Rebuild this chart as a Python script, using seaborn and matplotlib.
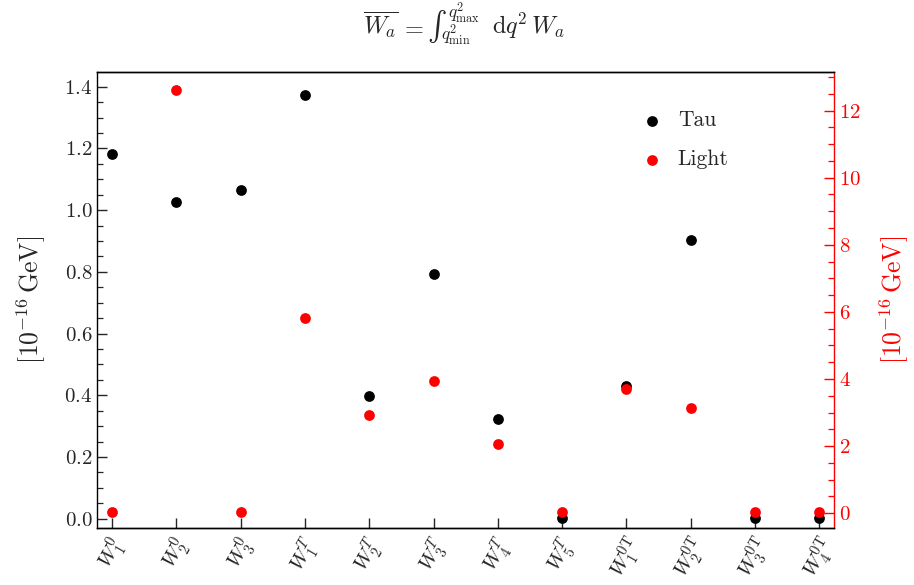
import matplotlib
matplotlib.use("Agg")
import matplotlib.pyplot as plt
import seaborn as sns
import pandas as pd
from matplotlib.ticker import MultipleLocator
from matplotlib.textpath import TextPath
from matplotlib.font_manager import FontProperties

categories = [r"$W_1^0$", r"$W_2^0$", r"$W_3^0$", r"$W_1^T$", r"$W_2^T$", r"$W_3^T$",
              r"$W_4^T$", r"$W_5^T$", r"$W_1^{\mathrm{0T}}$", r"$W_2^{\mathrm{0T}}$",
              r"$W_3^{\mathrm{0T}}$", r"$W_4^{\mathrm{0T}}$"]
tau = [1.182, 1.027, 1.067, 1.373, 0.398, 0.794, 0.324, 0.002, 0.431, 0.904, 0.002, 0.002]
light = [0.03, 12.62, 0.03, 5.81, 2.92, 3.93, 2.07, 0.03, 3.69, 3.15, 0.03, 0.03]
series_labels = ["Tau", "Light"]
ylabel_text = r"$[10^{-16}\,\mathrm{GeV}]$"

sns.set_style("ticks")
plt.rcParams["font.family"] = ["serif"]
plt.rcParams["font.serif"] = ["cmr10", "DejaVu Serif"]
plt.rcParams["mathtext.fontset"] = "cm"
plt.rcParams["axes.formatter.use_mathtext"] = True
plt.rcParams["axes.unicode_minus"] = False

df = pd.DataFrame({"cat": categories, "tau": tau, "light": light})

W, H = 914, 585
fig = plt.figure(figsize=(W / 100, H / 100), dpi=100)
ax = fig.add_axes([0.1065, 0.0974, 0.806, 0.7796])
ax2 = ax.twinx()

sns.scatterplot(data=df, x="cat", y="tau", ax=ax, color="black", s=60, linewidth=0,
                label=series_labels[0], legend=False)
sns.scatterplot(data=df, x="cat", y="light", ax=ax2, color="red", s=60, linewidth=0,
                label=series_labels[1], legend=False)

ax.set_xlim(-0.23, 11.23)
ax.set_ylim(-0.030, 1.448)
ax2.set_ylim(-0.44, 13.15)

fs = 15
lfs = 18.5
ax.set_xlabel("")
ax.set_ylabel(ylabel_text, fontsize=lfs, labelpad=12)
ax2.set_ylabel(ylabel_text, fontsize=lfs, color="red", labelpad=12)

ax.yaxis.set_major_locator(MultipleLocator(0.2))
ax.yaxis.set_minor_locator(MultipleLocator(0.05))
ax2.yaxis.set_major_locator(MultipleLocator(2))
ax2.yaxis.set_minor_locator(MultipleLocator(0.5))

ax.tick_params(axis="y", which="major", direction="in", length=7, width=1, labelsize=fs, left=True, right=False)
ax.tick_params(axis="y", which="minor", direction="in", length=4, width=0.9, left=True, right=False)
ax.tick_params(axis="x", which="major", direction="in", length=7, width=1, labelsize=fs, bottom=True, top=False)
ax.tick_params(axis="x", which="minor", bottom=False, top=False)
ax2.tick_params(axis="y", which="major", direction="in", length=7, width=1, labelsize=fs, colors="red")
ax2.tick_params(axis="y", which="minor", direction="in", length=4, width=0.9, colors="red")

for lab in ax.get_xticklabels():
    lab.set_rotation(60)
    lab.set_ha("center")

for a in (ax, ax2):
    for sp in a.spines.values():
        sp.set_visible(True)
        sp.set_linewidth(1.0)
        sp.set_color("black")
ax2.spines["right"].set_color("red")
ax.spines["right"].set_visible(False)
ax2.spines["left"].set_visible(False)

h1, l1 = ax.get_legend_handles_labels()
h2, l2 = ax2.get_legend_handles_labels()
legfs = 15.5
hl = 0.8
hx = 652 - hl * legfs * 100 / 72 / 2
ax2.legend(h1 + h2, l1 + l2, loc="center left", bbox_to_anchor=(hx / W, 1 - 140 / H),
           bbox_transform=fig.transFigure, frameon=False, fontsize=legfs,
           labelspacing=0.9, handletextpad=0.8, handlelength=hl,
           borderpad=0, borderaxespad=0)

# ---- title, laid out piece by piece (inline integral with side limits) ----
tfs = 17.5
renderer = fig.canvas.get_renderer()


def ftext(s, size, va="baseline", **kw):
    return fig.text(0, 0, s, fontsize=size, ha="left", va=va, **kw)


def width_px(t):
    return t.get_window_extent(renderer).width


def place(t, x, y):
    t.set_position((x / W, 1 - y / H))


tA = ftext(r"$\overline{W_a}$", tfs)
tEq = ftext(r"$=$", tfs)
int_size = 21.0
int_prop = FontProperties(family="cmex10", size=int_size)
tInt = ftext("R", int_size, fontproperties=int_prop)
tSup = ftext(r"$q^2_{\max}$", 12.5)
tSub = ftext(r"$q^2_{\min}$", 12.5)
tD = ftext(r"$\mathrm{d}q^2\,W_a$", tfs)

wA, wEq, wSup, wSub, wD = (width_px(t) for t in (tA, tEq, tSup, tSub, tD))
ext = TextPath((0, 0), "R", prop=int_prop, size=int_size).get_extents()
k = 100 / 72
int_x0 = ext.x0 * k
int_cy = (ext.y0 + ext.y1) / 2 * k

xA = 0
xEq = xA + wA + 1
xInt = xEq + wEq + 5
xSub = xInt + 12
xSup = xInt + 19
xD = max(xSub + wSub, xSup + wSup) + 12
total = xD + wD
off = 464 - total / 2

yb = 34
place(tA, off + xA, yb)
place(tEq, off + xEq, yb)
place(tInt, off + xInt - int_x0, 26 + int_cy)
place(tSup, off + xSup, 17.5)
place(tSub, off + xSub, 40)
place(tD, off + xD, yb)

fig.savefig("out.png", dpi=100)
